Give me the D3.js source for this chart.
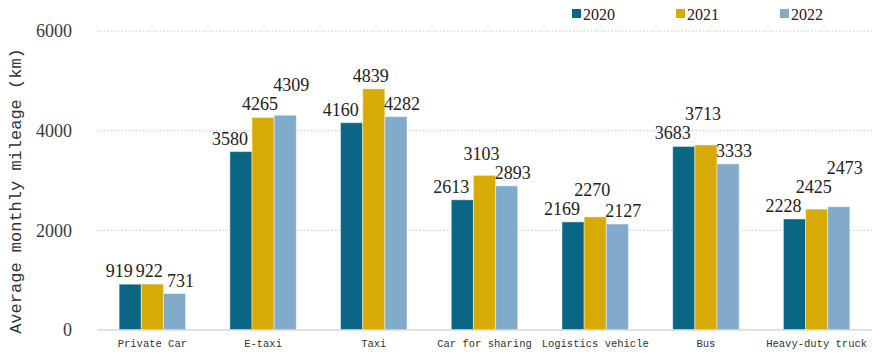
<!DOCTYPE html>
<html>
<head>
<meta charset="utf-8">
<script src="https://cdn.jsdelivr.net/npm/d3@7"></script>
<style>
  body { margin: 0; background: #fff; }
  #chart { width: 874px; height: 356px; }
  .grid-line { stroke: #c8c8c8; stroke-dasharray: 1.5 2; }
  .tick-label { font-family: "Liberation Serif", serif; font-size: 18px; fill: #3a3a3a; }
  .cat-label { font-family: "Liberation Mono", monospace; font-size: 10.5px; fill: #333; }
  .value-label { font-family: "Liberation Serif", serif; font-size: 18px; fill: #222; }
  .axis-title { font-family: "Liberation Mono", monospace; font-size: 17px; fill: #333; }
  .legend-text { font-family: "Liberation Serif", serif; font-size: 16px; fill: #222; }
</style>
</head>
<body>
<div id="chart"></div>
<script>
const categories = ["Private Car", "E-taxi", "Taxi", "Car for sharing", "Logistics vehicle", "Bus", "Heavy-duty truck"];
const years = ["2020", "2021", "2022"];
const values2020 = [919, 3580, 4160, 2613, 2169, 3683, 2228];
const values2021 = [922, 4265, 4839, 3103, 2270, 3713, 2425];
const values2022 = [731, 4309, 4282, 2893, 2127, 3333, 2473];
const yTicks = [0, 2000, 4000, 6000];
const colors = ["#0b6584", "#d7aa06", "#82aaca"];

const series = [values2020, values2021, values2022];

const width = 874, height = 356;
const margin = { top: 31, right: 2, bottom: 26, left: 97 };
const innerW = width - margin.left - margin.right;
const innerH = height - margin.top - margin.bottom;

const svg = d3.select("#chart")
    .append("svg")
    .attr("width", width)
    .attr("height", height);

const g = svg.append("g")
    .attr("transform", `translate(${margin.left},${margin.top})`);

const x0 = d3.scaleBand()
    .domain(categories)
    .range([0, innerW]);

const x1 = d3.scaleBand()
    .domain(years)
    .range([x0.bandwidth() * 0.2, x0.bandwidth() * 0.8]);

const y = d3.scaleLinear()
    .domain([0, 6000])
    .range([innerH, 0]);

// gridlines
g.selectAll(".y-grid")
    .data(yTicks.filter(d => d > 0))
    .enter()
    .append("line")
    .attr("class", "grid-line")
    .attr("x1", 0)
    .attr("x2", innerW)
    .attr("y1", d => y(d))
    .attr("y2", d => y(d));

// y tick labels
g.selectAll(".tick-label")
    .data(yTicks)
    .enter()
    .append("text")
    .attr("class", "tick-label")
    .attr("x", -25)
    .attr("y", d => y(d))
    .attr("dy", "0.35em")
    .attr("text-anchor", "end")
    .text(d => d);

// bars
const groups = g.selectAll(".cat")
    .data(categories)
    .enter()
    .append("g")
    .attr("transform", d => `translate(${x0(d)},0)`);

groups.selectAll("rect")
    .data((c, i) => years.map((yr, j) => ({ yr, j, v: series[j][i] })))
    .enter()
    .append("rect")
    .attr("x", d => x1(d.yr))
    .attr("y", d => y(d.v))
    .attr("width", x1.bandwidth())
    .attr("height", d => innerH - y(d.v))
    .attr("fill", d => colors[d.j])
    .attr("stroke", "rgba(255,255,255,0.45)")
    .attr("stroke-width", 1);

// value labels: when two collide, lift the one on the taller bar
const shifts = [-11, -3, 6];
const lineGap = 19;
categories.forEach((c, i) => {
    const labels = years.map((yr, j) => {
        const v = series[j][i];
        return {
            v,
            cx: x0(c) + x1(yr) + x1.bandwidth() / 2 + shifts[j],
            w: String(v).length * 9,
            by: y(v) - 7
        };
    });
    for (let pass = 0; pass < 3; pass++) {
        for (let a = 0; a < labels.length; a++) {
            for (let b = a + 1; b < labels.length; b++) {
                const p = labels[a], q = labels[b];
                const need = (p.w + q.w) / 2 + 2;
                if (Math.abs(q.cx - p.cx) < need && Math.abs(p.by - q.by) < lineGap) {
                    const hi = p.v >= q.v ? p : q;
                    const lo = hi === p ? q : p;
                    hi.by = lo.by - lineGap;
                }
            }
        }
    }
    g.selectAll(null)
        .data(labels)
        .enter()
        .append("text")
        .attr("class", "value-label")
        .attr("x", d => d.cx)
        .attr("y", d => d.by)
        .attr("text-anchor", "middle")
        .text(d => d.v);
});

// baseline
g.append("line")
    .attr("x1", 0)
    .attr("x2", innerW)
    .attr("y1", innerH)
    .attr("y2", innerH)
    .attr("stroke", "#d9d9d9")
    .attr("stroke-width", 1.5);

// category labels
g.selectAll(".cat-label")
    .data(categories)
    .enter()
    .append("text")
    .attr("class", "cat-label")
    .attr("x", d => x0(d) + x0.bandwidth() / 2)
    .attr("y", innerH + 17)
    .attr("text-anchor", "middle")
    .text(d => d);

// axis title
svg.append("text")
    .attr("class", "axis-title")
    .attr("transform", "rotate(-90)")
    .attr("x", -191)
    .attr("y", 21)
    .attr("text-anchor", "middle")
    .text("Average monthly mileage (km)");

// legend
const legend = svg.append("g").attr("transform", "translate(572,6)");
years.forEach((yr, j) => {
    const lg = legend.append("g").attr("transform", `translate(${j * 104},0)`);
    lg.append("rect")
        .attr("width", 9)
        .attr("height", 9)
        .attr("y", 3)
        .attr("fill", colors[j]);
    lg.append("text")
        .attr("class", "legend-text")
        .attr("x", 11)
        .attr("y", 8)
        .attr("dy", "0.35em")
        .text(yr);
});
</script>
</body>
</html>
